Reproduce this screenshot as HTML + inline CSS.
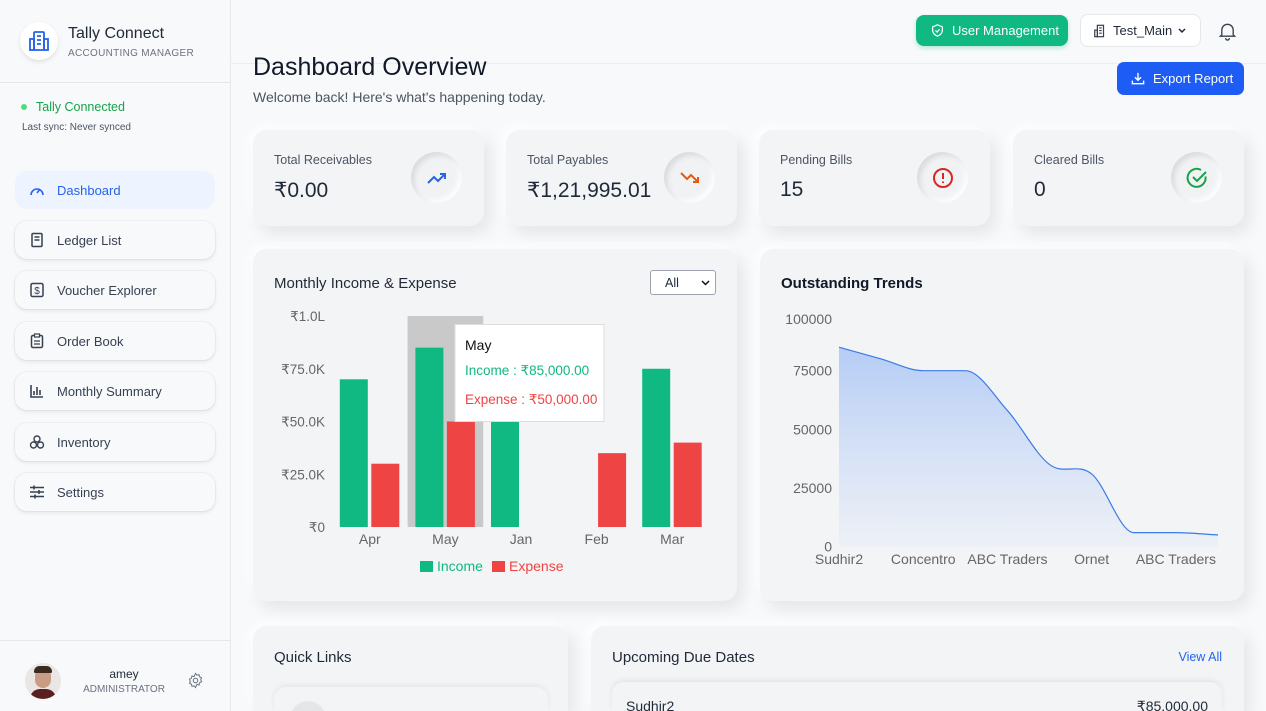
<!DOCTYPE html>
<html style="width:1266px;height:711px;overflow:hidden"><head><meta charset="utf-8">
<style>
*{box-sizing:border-box;margin:0;padding:0}
body{width:1266px;height:711px;overflow:hidden;background:#f8f9fb;font-family:"Liberation Sans","Noto Sans CJK SC",sans-serif;color:#1f2937;position:relative}
.abs{position:absolute}
.sidebar{left:0;top:0;width:231px;height:711px;background:#f8f9fb;border-right:1px solid #e5e7eb}
.nav{position:absolute;left:15px;width:200px;height:38px;border-radius:12px;background:#f8f9fb;box-shadow:0 2px 4px rgba(0,0,0,.08),0 0 0 1px #eef0f3;font-size:13px;color:#374151;display:flex;align-items:center;padding-left:42px}
.nav svg{position:absolute;left:14px;top:11px}
.card{position:absolute;background:#f3f4f6;border-radius:14px;box-shadow:6px 8px 16px rgba(0,0,0,.08),-4px -4px 10px rgba(255,255,255,.9)}
.stat .lbl{position:absolute;left:21px;top:23px;font-size:12.5px;color:#4b5563}
.stat .val{position:absolute;left:21px;top:48px;font-size:21px;color:#1f2937}
.stat .ic{position:absolute;right:22px;top:22px;width:51px;height:51px;border-radius:50%;background:#f1f2f4;box-shadow:inset 3px 3px 6px rgba(0,0,0,.1),inset -3px -3px 6px rgba(255,255,255,.9);display:flex;align-items:center;justify-content:center}
.ctitle{position:absolute;left:21px;top:26px;font-size:15px;color:#1f2937}
</style></head><body>
<div class="abs sidebar">
  <div class="abs" style="left:20px;top:22px;width:38px;height:38px;border-radius:50%;background:#fff;box-shadow:0 2px 5px rgba(0,0,0,.1)">
    <svg width="38" height="38" viewBox="0 0 38 38"><g fill="none" stroke="#2563eb" stroke-width="1.8"><rect x="14" y="10" width="10" height="18" rx="1"/><rect x="10" y="17" width="4" height="11"/><rect x="24" y="17" width="4" height="11"/><path d="M17 14h4M17 18h4M17 22h4"/></g></svg>
  </div>
  <div class="abs" style="left:68px;top:25px;font-size:16px;color:#1f2937">Tally Connect</div>
  <div class="abs" style="left:68px;top:48px;font-size:10px;color:#6b7280;letter-spacing:.3px">ACCOUNTING MANAGER</div>
  <div class="abs" style="left:0;top:82px;width:230px;height:1px;background:#e5e7eb"></div>
  <div class="abs" style="left:21px;top:104px;width:6px;height:6px;border-radius:50%;background:#4ade80"></div>
  <div class="abs" style="left:36px;top:100px;font-size:12.5px;color:#16a34a">Tally Connected</div>
  <div class="abs" style="left:22px;top:122px;font-size:10px;color:#4b5563">Last sync: Never synced</div>

  <div class="nav" style="top:171px;background:#eef4ff;box-shadow:none;color:#2563eb"><svg width="16" height="16" viewBox="0 0 16 16"><path d="M2 13a6 6 0 1 1 12 0" fill="none" stroke="#2563eb" stroke-width="1.6"/><path d="M8 11l3-4" stroke="#2563eb" stroke-width="1.6"/></svg>Dashboard</div>
  <div class="nav" style="top:221px"><svg width="16" height="16" viewBox="0 0 16 16"><rect x="3" y="1.5" width="10" height="13" rx="1" fill="none" stroke="#374151" stroke-width="1.5"/><path d="M5.5 5h5M5.5 8h5" stroke="#374151" stroke-width="1.5"/></svg>Ledger List</div>
  <div class="nav" style="top:271px"><svg width="16" height="16" viewBox="0 0 16 16"><rect x="2" y="1.5" width="12" height="13" rx="1.5" fill="none" stroke="#374151" stroke-width="1.5"/><text x="8" y="12" font-size="10" text-anchor="middle" fill="#374151" font-family="Liberation Sans">$</text></svg>Voucher Explorer</div>
  <div class="nav" style="top:322px"><svg width="16" height="16" viewBox="0 0 16 16"><rect x="2.5" y="2.5" width="11" height="12" rx="1.5" fill="none" stroke="#374151" stroke-width="1.5"/><rect x="5.5" y="1" width="5" height="3" fill="#f8f9fb" stroke="#374151" stroke-width="1.2"/><path d="M5 8h6M5 11h6" stroke="#374151" stroke-width="1.3"/></svg>Order Book</div>
  <div class="nav" style="top:372px"><svg width="16" height="16" viewBox="0 0 16 16"><path d="M2 2v12h12M5 12V8M8 12V4M11 12V7" stroke="#374151" stroke-width="1.6" fill="none"/></svg>Monthly Summary</div>
  <div class="nav" style="top:423px"><svg width="16" height="16" viewBox="0 0 16 16"><g fill="none" stroke="#374151" stroke-width="1.4"><circle cx="8" cy="5" r="3"/><circle cx="4.5" cy="11" r="3"/><circle cx="11.5" cy="11" r="3"/></g></svg>Inventory</div>
  <div class="nav" style="top:473px"><svg width="16" height="16" viewBox="0 0 16 16"><path d="M1 3.5h14M1 8h14M1 12.5h14" stroke="#374151" stroke-width="1.4"/><path d="M5 1.5v4M10 6v4M6 10.5v4" stroke="#374151" stroke-width="1.6"/></svg>Settings</div>

  <div class="abs" style="left:0;top:640px;width:230px;height:1px;background:#e5e7eb"></div>
  <div class="abs" style="left:25px;top:663px;width:36px;height:36px;border-radius:50%;background:#e9e6e3;overflow:hidden">
    <div class="abs" style="left:10px;top:5px;width:16px;height:20px;border-radius:8px;background:#c99c84"></div>
    <div class="abs" style="left:9px;top:3px;width:18px;height:7px;border-radius:8px 8px 2px 2px;background:#3b2a22"></div>
    <div class="abs" style="left:5px;top:26px;width:26px;height:14px;border-radius:10px 10px 0 0;background:#5a1f1f"></div>
  </div>
  <div class="abs" style="left:83px;top:667px;width:82px;text-align:center;font-size:12px;color:#1f2937">amey</div>
  <div class="abs" style="left:83px;top:684px;width:82px;text-align:center;font-size:10px;color:#6b7280">ADMINISTRATOR</div>
  <svg class="abs" style="left:187px;top:672px" width="17" height="17" viewBox="0 0 24 24"><path d="M12 2l2 2.5 3-.8.8 3 2.7 1.5-1.2 2.8 1.2 2.8-2.7 1.5-.8 3-3-.8L12 22l-2-2.5-3 .8-.8-3L3.5 15.8 4.7 13 3.5 10.2 6.2 8.7l.8-3 3 .8z" fill="none" stroke="#6b7280" stroke-width="1.4"/><circle cx="12" cy="12" r="3.2" fill="none" stroke="#6b7280" stroke-width="1.4"/></svg>
</div>

<!-- top bar -->
<div class="abs" style="left:231px;top:63px;width:1035px;height:1px;background:#eceef1"></div>
<div class="abs" style="left:916px;top:15px;width:152px;height:31px;border-radius:8px;background:#10b981;color:#fff;font-size:13px;display:flex;align-items:center;padding-left:36px;box-shadow:0 2px 5px rgba(16,185,129,.3)">
  <svg class="abs" style="left:15px;top:9px" width="13" height="13" viewBox="0 0 16 16"><path d="M8 1l6 2.5v4c0 3.5-2.5 6-6 7.5C4.5 13.5 2 11 2 7.5v-4z" fill="none" stroke="#fff" stroke-width="1.5"/><path d="M5.5 8l2 2 3-3.5" fill="none" stroke="#fff" stroke-width="1.5"/></svg>User Management</div>
<div class="abs" style="left:1080px;top:14px;width:121px;height:33px;border-radius:8px;background:#fff;border:1px solid #e5e7eb;font-size:13px;color:#1f2937;display:flex;align-items:center;padding-left:32px">
  <svg class="abs" style="left:12px;top:9px" width="14" height="14" viewBox="0 0 16 16"><g fill="none" stroke="#374151" stroke-width="1.4"><rect x="5" y="1.5" width="7" height="13"/><rect x="2" y="7" width="3" height="7.5"/><path d="M7 4.5h3M7 7.5h3M7 10.5h3"/></g></svg>Test_Main
  <svg class="abs" style="left:96px;top:12px" width="10" height="8" viewBox="0 0 10 8"><path d="M2 2l3 3 3-3" fill="none" stroke="#1f2937" stroke-width="1.5"/></svg></div>
<svg class="abs" style="left:1218px;top:21px" width="19" height="20" viewBox="0 0 20 20"><path d="M4 14V9a6 6 0 0 1 12 0v5l1.5 1.5h-15zM8 17.5a2 2 0 0 0 4 0" fill="none" stroke="#374151" stroke-width="1.4"/></svg>

<div class="abs" style="left:253px;top:53px;font-size:25px;color:#111827">Dashboard Overview</div>
<div class="abs" style="left:253px;top:89px;font-size:14px;color:#4b5563">Welcome back! Here's what's happening today.</div>
<div class="abs" style="left:1117px;top:62px;width:127px;height:33px;border-radius:7px;background:#1d5cf5;color:#fff;font-size:13px;display:flex;align-items:center;padding-left:36px">
  <svg class="abs" style="left:14px;top:10px" width="14" height="13" viewBox="0 0 16 15"><path d="M8 1v8M4.5 6L8 9.5 11.5 6M1.5 10v3.5h13V10" fill="none" stroke="#fff" stroke-width="1.6"/></svg>Export Report</div>

<!-- stat cards -->
<div class="card stat" style="left:253px;top:130px;width:231px;height:96px">
  <div class="lbl">Total Receivables</div><div class="val">₹0.00</div>
  <div class="ic"><svg width="20" height="14" viewBox="0 0 20 14"><path d="M1 12l6-6 4 4 7-7M13 3h5v5" fill="none" stroke="#2563eb" stroke-width="2"/></svg></div></div>
<div class="card stat" style="left:506px;top:130px;width:231px;height:96px">
  <div class="lbl">Total Payables</div><div class="val">₹1,21,995.01</div>
  <div class="ic"><svg width="20" height="14" viewBox="0 0 20 14"><path d="M1 2l6 6 4-4 7 7M13 11h5V6" fill="none" stroke="#ea580c" stroke-width="2"/></svg></div></div>
<div class="card stat" style="left:759px;top:130px;width:231px;height:96px">
  <div class="lbl">Pending Bills</div><div class="val">15</div>
  <div class="ic"><svg width="22" height="22" viewBox="0 0 22 22"><circle cx="11" cy="11" r="9" fill="none" stroke="#dc2626" stroke-width="2"/><path d="M11 6v6M11 14.5v1.5" stroke="#dc2626" stroke-width="2"/></svg></div></div>
<div class="card stat" style="left:1013px;top:130px;width:231px;height:96px">
  <div class="lbl">Cleared Bills</div><div class="val">0</div>
  <div class="ic"><svg width="22" height="22" viewBox="0 0 22 22"><path d="M19.5 9.5A9 9 0 1 1 15 3" fill="none" stroke="#16a34a" stroke-width="2"/><path d="M7 10l4 4 9-9" fill="none" stroke="#16a34a" stroke-width="2"/></svg></div></div>

<!-- charts -->
<div class="card" style="left:253px;top:249px;width:484px;height:352px">
  <div class="ctitle">Monthly Income &amp; Expense</div>
  <div class="abs" style="left:397px;top:21px;width:66px;height:25px;border:1px solid #9ca3af;border-radius:3px;background:#fff;font-size:12.5px;padding:5px 0 0 14px">All<svg class="abs" style="left:50px;top:9px" width="9" height="6" viewBox="0 0 9 6"><path d="M1 1l3.5 3.5L8 1" fill="none" stroke="#111" stroke-width="1.5"/></svg></div>
</div>
<div class="card" style="left:760px;top:249px;width:484px;height:352px">
  <div class="ctitle" style="font-weight:bold;color:#111827">Outstanding Trends</div>
</div>
<svg class="abs" style="left:0;top:0" width="1266" height="711" id="charts" font-family="Liberation Sans, sans-serif"></svg>

<!-- bottom cards -->
<div class="card" style="left:253px;top:626px;width:315px;height:85px;border-radius:14px 14px 0 0">
  <div class="ctitle" style="top:23px">Quick Links</div>
  <div class="abs" style="left:21px;top:61px;width:274px;height:24px;border-radius:12px 12px 0 0;background:#f3f4f6;box-shadow:0 -2px 6px rgba(0,0,0,.06);overflow:hidden">
    <div class="abs" style="left:16px;top:14px;width:36px;height:36px;border-radius:50%;background:#e5e6e8"></div></div>
</div>
<div class="card" style="left:591px;top:626px;width:653px;height:85px;border-radius:14px 14px 0 0">
  <div class="ctitle" style="top:23px">Upcoming Due Dates</div>
  <div class="abs" style="right:22px;top:24px;font-size:12.5px;color:#2563eb">View All</div>
  <div class="abs" style="left:21px;top:56px;width:610px;height:29px;border-radius:12px 12px 0 0;background:#f3f4f6;box-shadow:0 -2px 6px rgba(0,0,0,.07);overflow:hidden">
    <div class="abs" style="left:14px;top:16px;font-size:14px;color:#1f2937">Sudhir2</div>
    <div class="abs" style="right:14px;top:16px;font-size:14px;color:#1f2937">₹85,000.00</div></div>
</div>

<script>
const barCategories = ["Apr","May","Jan","Feb","Mar"];
const incomeValues = [70000,85000,50000,0,75000];
const expenseValues = [30000,50000,0,35000,40000];
const barTicks = [0,25000,50000,75000,100000];
const barTickLabels = ["₹0","₹25.0K","₹50.0K","₹75.0K","₹1.0L"];

const trendCategories = ["Sudhir2","","Concentro","","ABC Traders","","Ornet","","ABC Traders",""];
const trendValues = [85000,80000,75000,75000,58000,35000,31000,6000,6000,5000];
const trendTicks = [0,25000,50000,75000,100000];

const NS="http://www.w3.org/2000/svg";
const svg=document.getElementById('charts');
function mk(tag,attrs,parent){const e=document.createElementNS(NS,tag);for(const k in attrs)e.setAttribute(k,attrs[k]);(parent||svg).appendChild(e);return e;}

// ---- bar chart ----
const bx0=332,bx1=710,by0=527,by1=316,bmax=100000;
const bband=(bx1-bx0)/barCategories.length;
const bY=v=>by0-(v/bmax)*(by0-by1);
const bX=i=>bx0+i*bband;
const bg=mk('g',{});


const hl=mk('rect',{x:bX(1),y:by1,width:bband,height:by0-by1,fill:'#c9c9c9'},bg);


barTicks.forEach((t,i)=>{
  const tx=mk('text',{x:325,y:bY(t)+5,'text-anchor':'end','font-size':13.5,fill:'#666'},bg);
  tx.textContent=barTickLabels[i];
  
  
});
const bw=28;
barCategories.forEach((c,i)=>{
  const cx=bX(i)+bband/2;
  if(incomeValues[i]>0){const r=mk('rect',{x:cx-30,y:bY(incomeValues[i]),width:bw,height:by0-bY(incomeValues[i]),fill:'#10b981'},bg);
  
  }
  if(expenseValues[i]>0){const r=mk('rect',{x:cx+1.5,y:bY(expenseValues[i]),width:bw,height:by0-bY(expenseValues[i]),fill:'#ef4444'},bg);
  
  }
  const t=mk('text',{x:cx,y:544,'text-anchor':'middle','font-size':14,fill:'#666'},bg);
  t.textContent=c;
  
  
});
const lg=mk('g',{},bg);


mk('rect',{x:420,y:561,width:13,height:11,fill:'#10b981'},lg);
const li=mk('text',{x:437,y:571,'font-size':14,fill:'#10b981'},lg);li.textContent='Income';


mk('rect',{x:492,y:561,width:13,height:11,fill:'#ef4444'},lg);
const le=mk('text',{x:509,y:571,'font-size':14,fill:'#ef4444'},lg);le.textContent='Expense';


const tt=mk('g',{},bg);


mk('rect',{x:455,y:324.5,width:149,height:97,fill:'#fff',stroke:'#ddd'},tt);
const t1=mk('text',{x:465,y:350,'font-size':14,fill:'#111'},tt);t1.textContent=barCategories[1];
const t2=mk('text',{x:465,y:375,'font-size':13.5,fill:'#10b981'},tt);t2.textContent='Income : ₹'+incomeValues[1].toLocaleString('en-US')+'.00';
const t3=mk('text',{x:465,y:404,'font-size':13.5,fill:'#ef4444'},tt);t3.textContent='Expense : ₹'+expenseValues[1].toLocaleString('en-US')+'.00';

// ---- area chart ----
const ax0=839,ax1=1218,ay0=546.7,amax=100000,apx=234.7;
const aX=i=>ax0+i*(ax1-ax0)/(trendValues.length-1);
const aY=v=>ay0-v/amax*apx;
const ag=mk('g',{});


const defs=mk('defs',{},ag);
const grad=mk('linearGradient',{id:'ag',x1:0,y1:0,x2:0,y2:1},defs);
mk('stop',{offset:'0','stop-color':'#a9c5f5','stop-opacity':'0.85'},grad);
mk('stop',{offset:'1','stop-color':'#e8edf7','stop-opacity':'0.6'},grad);
trendTicks.forEach(t=>{
  const tx=mk('text',{x:832,y:(t===100000?324:aY(t)+5),'text-anchor':'end','font-size':14,fill:'#666'},ag);
  tx.textContent=String(t);
  
  
});
const pts=trendValues.map((v,i)=>[aX(i),aY(v)]);
const n=pts.length,d=[],m=[];
for(let i=0;i<n-1;i++)d.push((pts[i+1][1]-pts[i][1])/(pts[i+1][0]-pts[i][0]));
for(let i=0;i<n;i++){
  if(i===0)m.push(d[0]);else if(i===n-1)m.push(d[n-2]);
  else m.push(d[i-1]*d[i]<=0?0:(d[i-1]+d[i])/2);
}
for(let i=0;i<n-1;i++){if(d[i]===0){m[i]=0;m[i+1]=0;}}
let path='M'+pts[0][0]+','+pts[0][1];
for(let i=0;i<n-1;i++){
  const h=(pts[i+1][0]-pts[i][0])/3;
  path+=` C${pts[i][0]+h},${pts[i][1]+m[i]*h} ${pts[i+1][0]-h},${pts[i+1][1]-m[i+1]*h} ${pts[i+1][0]},${pts[i+1][1]}`;
}
const area=mk('path',{d:path+` L${ax1},${ay0} L${ax0},${ay0} Z`,fill:'url(#ag)'},ag);


const line=mk('path',{d:path,fill:'none',stroke:'#3b7be8','stroke-width':1.2},ag);


trendCategories.forEach((c,i)=>{
  if(!c)return;
  let x=aX(i),anchor='middle';
  if(i===trendCategories.length-2&&x+40>1222){x=1222;anchor='end';}
  const t=mk('text',{x:x,y:564,'text-anchor':anchor,'font-size':14,fill:'#666'},ag);
  t.textContent=c;
  
  
});
</script>
</body></html>
